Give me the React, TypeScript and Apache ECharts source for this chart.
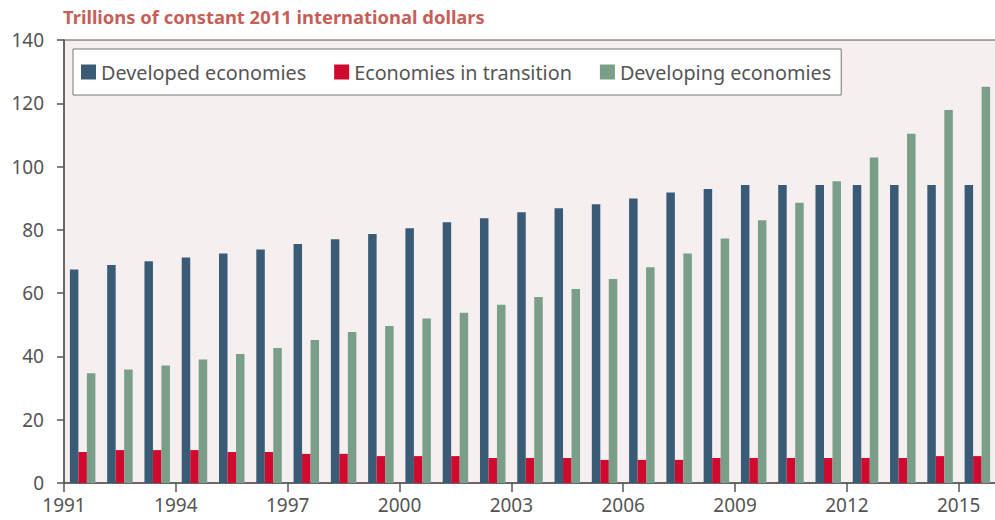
import React, { useEffect, useRef } from "react";
import * as echarts from "echarts";

const years = [
  "1991","1992","1993","1994","1995","1996","1997","1998","1999","2000",
  "2001","2002","2003","2004","2005","2006","2007","2008","2009","2010",
  "2011","2012","2013","2014","2015",
];
const developed = [
  67.5, 68.9, 70.1, 71.3, 72.5, 73.8, 75.5, 77.0, 78.7, 80.5,
  82.4, 83.7, 85.6, 86.8, 88.1, 89.9, 91.8, 92.9, 94.2, 94.2,
  94.2, 94.2, 94.2, 94.2, 94.2,
];
const transition = [
  9.8, 10.4, 10.4, 10.4, 9.8, 9.8, 9.2, 9.2, 8.5, 8.5,
  8.5, 7.9, 7.9, 7.9, 7.3, 7.3, 7.3, 7.9, 7.9, 7.9,
  7.9, 7.9, 7.9, 8.5, 8.5,
];
const developing = [
  34.7, 35.9, 37.1, 39.0, 40.8, 42.7, 45.2, 47.7, 49.6, 52.0,
  53.8, 56.3, 58.8, 61.3, 64.5, 68.2, 72.5, 77.3, 83.0, 88.6,
  95.4, 102.9, 110.4, 117.9, 125.2,
];
const seriesNames = ["Developed economies", "Economies in transition", "Developing economies"];
const colors = ["#3a5b76", "#d0092f", "#7a9e88"];
const titleText = "Trillions of constant 2011 international dollars";

const FONT = "'Noto Sans', sans-serif";

export default function App() {
  const ref = useRef<HTMLDivElement>(null);
  useEffect(() => {
    if (!ref.current) return;
    const chart = echarts.init(ref.current, undefined, { renderer: "svg" });
    const values = [developed, transition, developing];
    chart.setOption({
      animation: false,
      textStyle: { fontFamily: FONT },
      title: {
        text: titleText,
        left: 63,
        top: 7,
        padding: 0,
        textStyle: { fontSize: 18.4, fontWeight: "bold", color: "#c65f58", fontFamily: FONT },
      },
      legend: {
        left: 73,
        top: 49,
        orient: "horizontal",
        icon: "rect",
        itemWidth: 15,
        itemHeight: 15,
        itemGap: 28,
        padding: [13, 10, 13, 8],
        backgroundColor: "#ffffff",
        borderColor: "#777777",
        borderWidth: 1,
        textStyle: { fontSize: 19.8, color: "#555555", fontFamily: FONT },
        data: seriesNames,
      },
      grid: {
        left: 64,
        top: 40,
        right: 0,
        bottom: 37,
        show: true,
        backgroundColor: "#f6eff0",
        borderColor: "#555555",
        borderWidth: 1,
      },
      xAxis: [
        {
          type: "category",
          data: years,
          show: false,
        },
        {
          type: "value",
          min: 0,
          max: 25,
          interval: 3,
          position: "bottom",
          axisLine: { show: true, lineStyle: { color: "#555555", width: 1.5 } },
          axisTick: { show: true, length: 9, inside: false, lineStyle: { color: "#555555", width: 1.5 } },
          splitLine: { show: false },
          axisLabel: {
            fontSize: 19,
            color: "#555555",
            margin: 12,
            fontFamily: FONT,
            formatter: (v: number) => (v >= 25 ? "" : String(1991 + v)),
          },
        },
      ],
      yAxis: {
        type: "value",
        min: 0,
        max: 140,
        interval: 20,
        axisLine: { show: true, lineStyle: { color: "#555555", width: 1.5 } },
        axisTick: { show: true, length: 7, inside: false, lineStyle: { color: "#555555", width: 1.5 } },
        splitLine: { show: false },
        axisLabel: { fontSize: 19, color: "#555555", margin: 20, fontFamily: FONT },
      },
      series: seriesNames.map((name, i) => ({
        name,
        type: "bar",
        xAxisIndex: 0,
        data: values[i],
        barWidth: 8.5,
        barGap: "0%",
        itemStyle: { color: colors[i] },
      })),
    });
    return () => chart.dispose();
  }, []);
  return (
    <div
      style={{ position: "absolute", left: 0, top: 0, width: 995, height: 520, overflow: "hidden" }}
    >
      <div ref={ref} style={{ width: 999, height: 520 }} />
    </div>
  );
}
